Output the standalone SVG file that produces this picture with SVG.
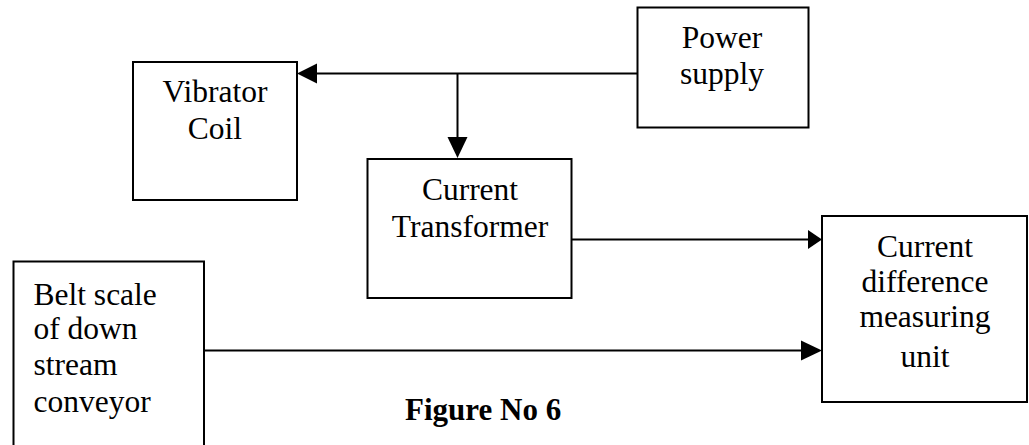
<svg xmlns="http://www.w3.org/2000/svg" width="1029" height="445" viewBox="0 0 1029 445">
<style>
.box{fill:#fff;stroke:#000;stroke-width:2}
.t{font-family:"Liberation Serif","Times New Roman",serif;font-size:31.5px;fill:#000}
.c{text-anchor:middle}
.cap{font-family:"Liberation Serif","Times New Roman",serif;font-size:31px;font-weight:bold;fill:#000}
.ln{stroke:#000;stroke-width:2;fill:none}
.ah{fill:#000}
</style>
<rect width="1029" height="445" fill="#fff"/>
<g id="connectors">
<line class="ln" x1="637" y1="73.5" x2="312" y2="73.5"/>
<polygon class="ah" points="297,73.5 317,63.5 317,83.5"/>
<line class="ln" x1="457.5" y1="73.5" x2="457.5" y2="140"/>
<polygon class="ah" points="457.5,158 447.5,137 467.5,137"/>
<line class="ln" x1="572" y1="239.5" x2="810" y2="239.5"/>
<polygon class="ah" points="822,239.5 808,230 808,249"/>
<line class="ln" x1="204" y1="350.5" x2="805" y2="350.5"/>
<polygon class="ah" points="822,350.5 801,340.5 801,360.5"/>
</g>
<g id="vibrator-coil">
<rect class="box" x="133" y="62" width="164" height="138"/>
<text class="t c" x="215" y="101.5">Vibrator</text>
<text class="t c" x="215" y="138.5">Coil</text>
</g>
<g id="power-supply">
<rect class="box" x="637.5" y="7.5" width="171" height="120"/>
<text class="t c" x="722" y="47.5">Power</text>
<text class="t c" x="722" y="83.5">supply</text>
</g>
<g id="current-transformer">
<rect class="box" x="367.5" y="159" width="204" height="139"/>
<text class="t c" x="470" y="200">Current</text>
<text class="t c" x="470" y="236.5">Transformer</text>
</g>
<g id="current-difference">
<rect class="box" x="822" y="216" width="205" height="186"/>
<text class="t c" x="925" y="256.5">Current</text>
<text class="t c" x="925" y="291.5">difference</text>
<text class="t c" x="925" y="327">measuring</text>
<text class="t c" x="925" y="366.5">unit</text>
</g>
<g id="belt-scale">
<rect class="box" x="13.5" y="261.5" width="190.5" height="200"/>
<text class="t" x="33.5" y="304.5">Belt scale</text>
<text class="t" x="33.5" y="338.5">of down</text>
<text class="t" x="33.5" y="375">stream</text>
<text class="t" x="33.5" y="411.5">conveyor</text>
</g>
<text class="cap" x="405" y="420">Figure No 6</text>
</svg>
